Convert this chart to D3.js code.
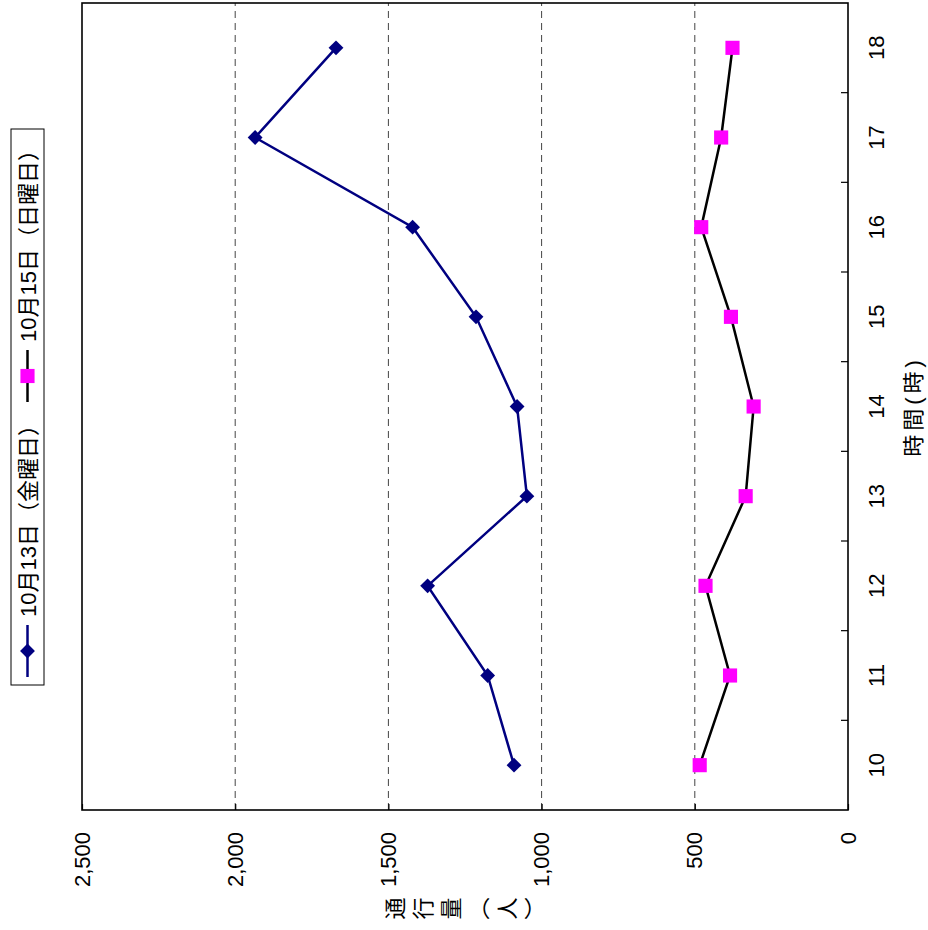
<!DOCTYPE html>
<html><head><meta charset="utf-8">
<script src="https://cdn.jsdelivr.net/npm/d3@7"></script>
<style>
html,body{margin:0;padding:0;background:#fff;}
text{font-family:"Liberation Sans","Noto Sans CJK JP",sans-serif;}
</style></head>
<body>
<svg id="chart" width="928" height="930"></svg>
<script>
const hours = ["10","11","12","13","14","15","16","17","18"];
const fridayValues = [1090, 1176, 1372, 1048, 1080, 1214, 1421, 1935, 1671];
const sundayValues = [484, 385, 465, 334, 308, 382, 479, 414, 377];
const valueTicks = [0, 500, 1000, 1500, 2000, 2500];
const seriesNames = ["10月13日（金曜日）", "10月15日（日曜日）"];
const xTitle = "時間(時)";
const yTitle = "通行量（人）";

const svg = d3.select("#chart");
svg.append("rect").attr("width",928).attr("height",930).attr("fill","#fff");
// The whole chart is drawn in its own frame, then turned a quarter turn counter-clockwise
const g = svg.append("g").attr("transform","translate(0,930) rotate(-90)");

const x = d3.scaleBand().domain(hours).range([120, 927]).padding(0);
const y = d3.scaleLinear().domain([0, 2500]).range([848, 82]);
const bw = x.bandwidth();

// grid
g.append("g").selectAll("line").data(valueTicks.filter(v=>v>0 && v<2500)).join("line")
  .attr("x1",120).attr("x2",927).attr("y1",d=>y(d)).attr("y2",d=>y(d))
  .attr("stroke","#444").attr("stroke-width",1).attr("stroke-dasharray","7,5");

// value axis
const yAxis = d3.axisLeft(y).tickValues(valueTicks).tickFormat(d3.format(","))
  .tickSizeInner(-6).tickSizeOuter(0).tickPadding(22);
const ya = g.append("g").attr("transform","translate(120,0)").call(yAxis);
ya.select(".domain").remove();
ya.selectAll("line").attr("stroke","#000").attr("stroke-width",1.2);
ya.selectAll("text").attr("font-size",22).attr("fill","#000")
  .style("font-family",'"Liberation Sans",sans-serif');

// hour axis labels
const xAxis = d3.axisBottom(x).tickSize(0).tickPadding(0);
const xa = g.append("g").attr("transform","translate(0,848)").call(xAxis);
xa.select(".domain").remove();
xa.selectAll("text").attr("y",36).attr("dy",0).attr("font-size",22).attr("fill","#000")
  .style("font-family",'"Liberation Sans",sans-serif');
// hour ticks at band boundaries
g.append("g").selectAll("line").data(hours.slice(1)).join("line")
  .attr("x1",d=>x(d)).attr("x2",d=>x(d)).attr("y1",848).attr("y2",841)
  .attr("stroke","#000").attr("stroke-width",1.2);

// frame
g.append("rect").attr("x",120).attr("y",82).attr("width",927-120).attr("height",848-82)
  .attr("fill","none").attr("stroke","#000").attr("stroke-width",1.6);

// series
const line = d3.line().x((d,i)=>x(hours[i])+bw/2).y(d=>y(d));
g.append("path").datum(fridayValues).attr("d",line).attr("fill","none")
  .attr("stroke","#000080").attr("stroke-width",2.5);
g.append("path").datum(sundayValues).attr("d",line).attr("fill","none")
  .attr("stroke","#000").attr("stroke-width",2.5);

const diamond = d3.symbol(d3.symbolSquare, 110);
const square = d3.symbol(d3.symbolSquare, 200);
g.append("g").selectAll("path").data(fridayValues).join("path")
  .attr("d",diamond)
  .attr("transform",(d,i)=>`translate(${x(hours[i])+bw/2},${y(d)}) rotate(45)`)
  .attr("fill","#000080");
g.append("g").selectAll("path").data(sundayValues).join("path")
  .attr("d",square)
  .attr("transform",(d,i)=>`translate(${x(hours[i])+bw/2},${y(d)})`)
  .attr("fill","#ff00ff");

// axis titles
g.append("text").attr("x",(120+927)/2).attr("y",921).attr("text-anchor","middle")
  .style("letter-spacing","4px")
  .attr("font-size",22).attr("fill","#000").text(xTitle);
g.append("text").attr("x",19).attr("y",468).attr("text-anchor","middle")
  .style("writing-mode","vertical-rl").style("letter-spacing","6px")
  .attr("font-size",22).attr("fill","#000").text(yTitle);

// legend
const lg = g.append("g");
lg.append("rect").attr("x",245).attr("y",11).attr("width",801-245).attr("height",33)
  .attr("fill","#fff").attr("stroke","#000").attr("stroke-width",1);
const legendX = [253, 528];
const colors = ["#000080","#000"];
seriesNames.forEach((name,i)=>{
  const lx = legendX[i];
  lg.append("line").attr("x1",lx).attr("x2",lx+52).attr("y1",27.5).attr("y2",27.5)
    .attr("stroke",colors[i]).attr("stroke-width",2.5);
  lg.append("path").attr("d", i===0 ? diamond : square)
    .attr("transform", i===0 ? `translate(${lx+26},27.5) rotate(45)` : `translate(${lx+26},27.5)`)
    .attr("fill", i===0 ? "#000080" : "#ff00ff");
  lg.append("text").attr("x",lx+60).attr("y",35.5).attr("font-size",22).attr("fill","#000").text(name);
});
</script>
</body></html>
